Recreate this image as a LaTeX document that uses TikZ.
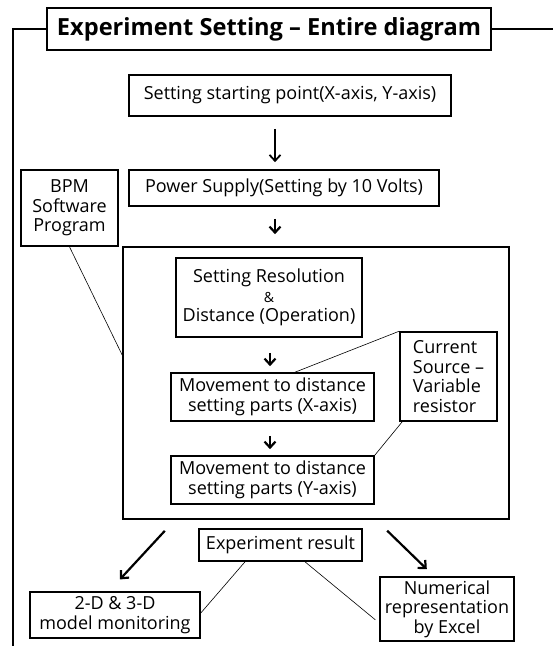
\documentclass[tikz,border=0pt]{standalone}
\usepackage{fontspec}
\setmainfont{Open Sans}
\usetikzlibrary{arrows.meta}

\begin{document}
\begin{tikzpicture}[x=1pt,y=-1pt,
  box/.style={draw,line width=1.6pt,inner sep=0pt,align=center,
    font=\fontsize{18}{19.5}\selectfont},
  flow/.style={-{Straight Barb[length=6pt,width=11pt]},line width=2.2pt},
  link/.style={line width=0.6pt}]
  \useasboundingbox (0,0) rectangle (553,646);
  % title and outer frame
  \node[box,minimum width=444pt,minimum height=42pt,font=\fontsize{23.6}{26}\bfseries]
    (title) at (269,29) {Experiment Setting -- Entire diagram};
  \coordinate (leftend) at (13,646);
  \coordinate (rightend) at (553,29);
  \draw[line width=1.6pt] (title.west) -| (leftend);
  \draw[line width=1.6pt] (title.east) -- (rightend);
  % upper boxes
  \node[box,minimum width=322pt,minimum height=41pt] (start) at (290,95.5)
    {Setting starting point(X-axis, Y-axis)};
  \node[box,minimum width=310pt,minimum height=36pt] (power) at (284,188)
    {Power Supply(Setting by 10 Volts)};
  \node[box,minimum width=97pt,minimum height=76pt] (bpm) at (69.5,208)
    {BPM\\Software\\Program};
  % operation block
  \node[box,minimum width=386pt,minimum height=272pt] (block) at (316,383) {};
  \node[box,minimum width=186pt,minimum height=79pt] (res) at (269,297.5)
    {Setting Resolution\\{\fontsize{14}{19.5}\selectfont\&}\\Distance (Operation)};
  \node[box,minimum width=203pt,minimum height=48pt] (movx) at (272.5,397)
    {Movement to distance\\setting parts (X-axis)};
  \node[box,minimum width=203pt,minimum height=48pt] (movy) at (272.5,480)
    {Movement to distance\\setting parts (Y-axis)};
  \node[box,minimum width=97pt,minimum height=89pt,align=left] (cur) at (448.5,376.5)
    {Current\\Source --\\Variable\\resistor};
  % results
  \node[box,minimum width=163pt,minimum height=32pt] (result) at (280.5,545)
    {Experiment result};
  \node[box,minimum width=170pt,minimum height=46pt] (model) at (115,615)
    {2-D \& 3-D\\model monitoring};
  \node[box,minimum width=134pt,minimum height=64pt] (excel) at (447,609)
    {Numerical\\representation\\by Excel};
  % arrows
  \draw[flow,line width=1.8pt,shorten <=12pt,shorten >=7pt]
    ([xshift=-15pt]start.south) -- ([xshift=-9pt]power.north);
  \draw[flow,shorten <=12pt,shorten >=12pt]
    ([xshift=-9pt]power.south) -- ([xshift=-41pt]block.north);
  \draw[flow,shorten <=15pt,shorten >=6pt]
    ([xshift=1pt]res.south) -- ([xshift=-2.5pt]movx.north);
  \draw[flow,shorten <=14pt,shorten >=6pt]
    ([xshift=-2.5pt]movx.south) -- ([xshift=-2.5pt]movy.north);
  \draw[flow,shorten <=15pt,shorten >=16pt]
    ([xshift=-141pt]block.south) -- ([xshift=-6pt]model.north);
  \draw[flow,shorten <=15.6pt,shorten >=10pt]
    ([xshift=60pt]block.south) -- ([xshift=-13pt]excel.north);
  % links
  \draw[link] (bpm.south) -- ([yshift=28pt]block.west);
  \draw[link] (cur.north west) -- ([xshift=22.5pt]movx.north);
  \draw[link] ([xshift=3pt]cur.south west) -- (movy.north east);
  \draw[link] ([xshift=-35.5pt]result.south) -- ([yshift=2pt]model.east);
  \draw[link,shorten >=5pt] ([xshift=24.5pt]result.south) -- ([yshift=-14pt]excel.west);
\end{tikzpicture}
\end{document}
